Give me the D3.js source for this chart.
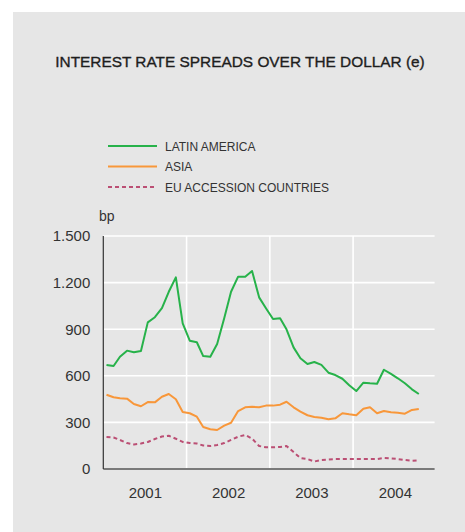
<!DOCTYPE html>
<html>
<head>
<meta charset="utf-8">
<script src="https://cdn.jsdelivr.net/npm/d3@7"></script>
<style>
  body { margin: 0; background: #fff; }
  svg text { font-family: "Liberation Sans", Arial, sans-serif; }
</style>
</head>
<body>
<div id="chart"></div>
<script>
// Monthly spreads, Jan 2001 .. Oct 2004 (bp)
const startYear = 2001;
const years = [2001, 2002, 2003, 2004];
const yTicks = [0, 300, 600, 900, 1200, 1500];

const latinAmerica = [
    670, 663, 723, 762, 751, 760, 944, 977, 1035, 1141, 1234, 938,
    826, 816, 727, 723, 805, 970, 1141, 1238, 1238, 1275, 1105, 1035,
    966, 970, 899, 783, 713, 676, 689, 670, 620, 605, 581, 539,
    502, 556, 552, 549, 639, 612, 584, 552, 513, 483
];
const asia = [
    478, 462, 455, 453, 418, 404, 431, 429, 465, 483, 449, 367,
    359, 337, 270, 256, 251, 279, 298, 373, 397, 401, 397, 408,
    408, 414, 433, 397, 369, 346, 335, 330, 320, 326, 359, 352,
    346, 388, 397, 359, 373, 365, 362, 356, 380, 386
];
const euAccession = [
    206, 203, 187, 167, 158, 164, 174, 193, 209, 214, 195, 174,
    167, 164, 151, 148, 155, 167, 187, 208, 219, 196, 148, 140,
    140, 142, 148, 109, 71, 64, 48, 58, 61, 64, 64, 64,
    64, 64, 64, 64, 71, 68, 64, 58, 53, 56
];

const series = [
    { name: 'LATIN AMERICA', values: latinAmerica, color: '#27b24a', dash: null },
    { name: 'ASIA', values: asia, color: '#f8973a', dash: null },
    { name: 'EU ACCESSION COUNTRIES', values: euAccession, color: '#bb4f74', dash: '4,3' }
];

const width = 465, height = 532;
const plot = { left: 103.3, right: 436.6, top: 236, bottom: 469 };

const svg = d3.select('#chart').append('svg')
    .attr('width', width)
    .attr('height', height);

// panel background
svg.append('rect')
    .attr('x', 13).attr('y', 12)
    .attr('width', width - 13).attr('height', height - 12)
    .attr('fill', '#e6e6e6');

svg.append('text')
    .attr('x', 240).attr('y', 67)
    .attr('text-anchor', 'middle')
    .attr('fill', '#1e1e1e')
    .attr('stroke', '#1e1e1e')
    .attr('stroke-width', 0.35)
    .style('font-size', '15.4px')
    .text('INTEREST RATE SPREADS OVER THE DOLLAR (e)');

const x = d3.scaleTime()
    .domain([new Date(startYear, 0, 1), new Date(startYear + years.length, 0, 1)])
    .range([plot.left, plot.right]);

const y = d3.scaleLinear()
    .domain([0, 1500])
    .range([plot.bottom, plot.top]);

const fmt = d3.formatLocale({ decimal: ',', thousands: '.', grouping: [3], currency: ['', ''] }).format(',d');

// horizontal grid
svg.append('g')
    .selectAll('line')
    .data(yTicks.filter(d => d > 0))
    .enter().append('line')
    .attr('x1', plot.left).attr('x2', plot.right - 2)
    .attr('y1', d => y(d)).attr('y2', d => y(d))
    .attr('stroke', '#fff')
    .attr('stroke-width', 1.6);

// vertical grid at year boundaries
svg.append('g')
    .selectAll('line')
    .data(years.slice(1))
    .enter().append('line')
    .attr('x1', d => x(new Date(d, 0, 1))).attr('x2', d => x(new Date(d, 0, 1)))
    .attr('y1', plot.top).attr('y2', plot.bottom)
    .attr('stroke', '#fff')
    .attr('stroke-width', 1.6);

// y axis labels
const yAxis = svg.append('g')
    .attr('transform', `translate(${plot.left},0)`)
    .call(d3.axisLeft(y).tickValues(yTicks).tickSize(0).tickPadding(13).tickFormat(fmt));
yAxis.select('.domain').remove();
yAxis.selectAll('text')
    .attr('fill', '#333')
    .style('font-size', '15px')
    .style('font-family', '"Liberation Sans", Arial, sans-serif');

svg.append('text')
    .attr('x', 99).attr('y', 221)
    .attr('fill', '#333')
    .style('font-size', '14px')
    .text('bp');

// x axis labels centred in each year
const xAxis = svg.append('g')
    .attr('transform', `translate(0,${plot.bottom})`)
    .call(d3.axisBottom(x)
        .tickValues(years.map(d => new Date(d, 6, 2)))
        .tickSize(0).tickPadding(18)
        .tickFormat(d3.timeFormat('%Y')));
xAxis.select('.domain').remove();
xAxis.selectAll('text')
    .attr('fill', '#333')
    .style('font-size', '15px')
    .style('font-family', '"Liberation Sans", Arial, sans-serif');

// axis lines
svg.append('line')
    .attr('x1', plot.left).attr('x2', plot.right - 2)
    .attr('y1', plot.bottom).attr('y2', plot.bottom)
    .attr('stroke', '#7a7a7a')
    .attr('stroke-width', 2);
svg.append('line')
    .attr('x1', plot.left).attr('x2', plot.left)
    .attr('y1', plot.top).attr('y2', plot.bottom)
    .attr('stroke', '#333')
    .attr('stroke-width', 1.2);

// series lines
const line = d3.line()
    .x((d, i) => x(new Date(startYear, i, 15)))
    .y(d => y(d));

svg.append('g')
    .selectAll('path')
    .data(series.slice().reverse())
    .enter().append('path')
    .attr('d', d => line(d.values))
    .attr('fill', 'none')
    .attr('stroke', d => d.color)
    .attr('stroke-width', 2)
    .attr('stroke-dasharray', d => d.dash)
    .attr('stroke-linejoin', 'round');

// legend
const legend = svg.append('g')
    .selectAll('g')
    .data(series)
    .enter().append('g')
    .attr('transform', (d, i) => `translate(108,${146 + i * 20.5})`);

legend.append('line')
    .attr('x1', 0).attr('x2', 49)
    .attr('stroke', d => d.color)
    .attr('stroke-width', 2)
    .attr('stroke-dasharray', d => d.dash);

legend.append('text')
    .attr('x', 57).attr('y', 4.5)
    .attr('fill', '#333')
    .style('font-size', '12px')
    .text(d => d.name);
</script>
</body>
</html>
